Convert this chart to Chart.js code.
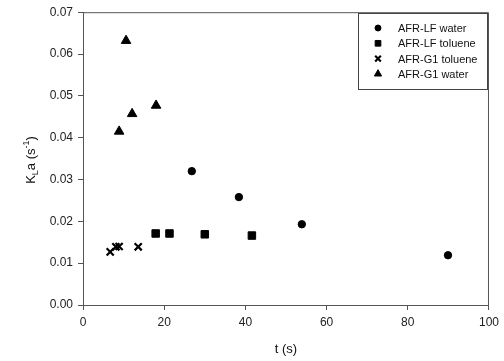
<!DOCTYPE html>
<html>
<head>
<meta charset="utf-8">
<script src="https://cdn.jsdelivr.net/npm/chart.js@4.4.1/dist/chart.umd.min.js"></script>
<style>
  html, body { margin: 0; padding: 0; background: #fff; }
  #wrap { width: 504px; height: 361px; }
</style>
</head>
<body>
<div id="wrap"><canvas id="chart-scatter"></canvas></div>
<script>
// data: t (s) and KLa (1/s)
var lfWaterT = [26.8, 38.4, 53.9, 89.9];
var lfWaterK = [0.0320, 0.0258, 0.0193, 0.0119];

var lfTolueneT = [17.9, 21.3, 30.0, 41.6];
var lfTolueneK = [0.0171, 0.0171, 0.0169, 0.0166];

var g1TolueneT = [6.7, 8.1, 8.9, 13.6];
var g1TolueneK = [0.0127, 0.0139, 0.0140, 0.0139];

var g1WaterT = [8.9, 10.6, 12.1, 18.0];
var g1WaterK = [0.0415, 0.0632, 0.0457, 0.0477];

var seriesNames = ["AFR-LF water", "AFR-LF toluene", "AFR-G1 toluene", "AFR-G1 water"];
var xTicks = [0, 20, 40, 60, 80, 100];
var yTicks = [0, 0.01, 0.02, 0.03, 0.04, 0.05, 0.06, 0.07];

function toPoints(xs, ys) {
  return xs.map(function (x, i) { return { x: x, y: ys[i] }; });
}

var axisColor = '#555555';
var tickFont = { size: 12, family: "'Liberation Sans', Arial, sans-serif" };

// frame, legend box, and y title with sub/superscript
var extrasPlugin = {
  id: 'extras',
  afterDraw: function (chart) {
    var ctx = chart.ctx;
    var a = chart.chartArea;
    ctx.save();
    ctx.strokeStyle = axisColor;
    ctx.lineWidth = 1;
    ctx.beginPath();
    ctx.moveTo(a.left, a.top + 0.5);
    ctx.lineTo(a.right - 0.5, a.top + 0.5);
    ctx.lineTo(a.right - 0.5, a.bottom);
    ctx.stroke();

    // legend box
    var bx = 358.5, by = 13.5, bw = 129, bh = 76;
    ctx.fillStyle = '#fff';
    ctx.fillRect(bx, by, bw, bh);
    ctx.strokeStyle = '#444';
    ctx.strokeRect(bx, by, bw, bh);
    ctx.font = "11px 'Liberation Sans', Arial, sans-serif";
    ctx.textBaseline = 'middle';
    var legendRadius = [3, 4, 4, 4.2];
    chart.data.datasets.forEach(function (ds, i) {
      var yy = 28 + i * 15.3;
      ctx.fillStyle = '#000';
      ctx.strokeStyle = '#000';
      ctx.lineWidth = ds.borderWidth;
      Chart.helpers.drawPoint(ctx, {
        pointStyle: ds.pointStyle,
        radius: legendRadius[i],
        borderWidth: ds.borderWidth,
        rotation: 0
      }, 378, yy);
      ctx.fillStyle = '#111';
      ctx.fillText(ds.label, 398, yy + 1);
    });

    // y axis title: K_L a (s^-1)
    ctx.translate(30, 160);
    ctx.rotate(-Math.PI / 2);
    ctx.fillStyle = '#111';
    ctx.textBaseline = 'alphabetic';
    var big = "13px 'Liberation Sans', Arial, sans-serif";
    var small = "9px 'Liberation Sans', Arial, sans-serif";
    var parts = [
      { t: 'K', f: big, dy: 0 },
      { t: 'L', f: small, dy: 3 },
      { t: 'a (s', f: big, dy: 0 },
      { t: '-1', f: small, dy: -6 },
      { t: ')', f: big, dy: 0 }
    ];
    var total = 0;
    parts.forEach(function (p) { ctx.font = p.f; total += ctx.measureText(p.t).width; });
    var cx = -total / 2;
    parts.forEach(function (p) {
      ctx.font = p.f;
      ctx.fillText(p.t, cx, 5 + p.dy);
      cx += ctx.measureText(p.t).width;
    });
    ctx.restore();
  }
};

var ctx = document.getElementById("chart-scatter").getContext("2d");
new Chart(ctx, {
  type: 'scatter',
  data: {
    datasets: [
      {
        label: seriesNames[0],
        data: toPoints(lfWaterT, lfWaterK),
        pointStyle: 'circle',
        pointRadius: 3.7,
        borderWidth: 1,
        backgroundColor: '#000',
        borderColor: '#000'
      },
      {
        label: seriesNames[1],
        data: toPoints(lfTolueneT, lfTolueneK),
        pointStyle: 'rect',
        pointRadius: 5.3,
        borderWidth: 1,
        backgroundColor: '#000',
        borderColor: '#000'
      },
      {
        label: seriesNames[2],
        data: toPoints(g1TolueneT, g1TolueneK),
        pointStyle: 'crossRot',
        pointRadius: 5,
        borderWidth: 2.2,
        backgroundColor: '#000',
        borderColor: '#000'
      },
      {
        label: seriesNames[3],
        data: toPoints(g1WaterT, g1WaterK),
        pointStyle: 'triangle',
        pointRadius: 5.5,
        borderWidth: 1,
        backgroundColor: '#000',
        borderColor: '#000'
      }
    ]
  },
  options: {
    responsive: true,
    maintainAspectRatio: false,
    animation: false,
    layout: {
      padding: { top: 12, right: 15, bottom: 0, left: 0 }
    },
    plugins: {
      legend: { display: false },
      tooltip: { enabled: false }
    },
    scales: {
      x: {
        type: 'linear',
        min: 0,
        max: 100,
        afterBuildTicks: function (scale) {
          scale.ticks = xTicks.map(function (v) { return { value: v }; });
        },
        afterFit: function (scale) { scale.height = 56; },
        border: { color: axisColor, width: 1 },
        grid: {
          display: true,
          drawOnChartArea: false,
          drawTicks: true,
          tickLength: 5,
          color: axisColor
        },
        ticks: {
          color: '#222',
          padding: 5,
          maxRotation: 0,
          font: tickFont
        },
        title: {
          display: true,
          text: 't (s)',
          color: '#111',
          padding: { top: 4, bottom: 4 },
          font: { size: 13, family: "'Liberation Sans', Arial, sans-serif" }
        }
      },
      y: {
        type: 'linear',
        min: 0,
        max: 0.07,
        afterBuildTicks: function (scale) {
          scale.ticks = yTicks.map(function (v) { return { value: v }; });
        },
        afterFit: function (scale) { scale.width = 83; },
        border: { color: axisColor, width: 1 },
        grid: {
          display: true,
          drawOnChartArea: false,
          drawTicks: true,
          tickLength: 5,
          color: axisColor
        },
        ticks: {
          color: '#222',
          padding: 5,
          font: tickFont,
          callback: function (v) { return v.toFixed(2); }
        }
      }
    }
  },
  plugins: [extrasPlugin]
});
</script>
</body>
</html>
